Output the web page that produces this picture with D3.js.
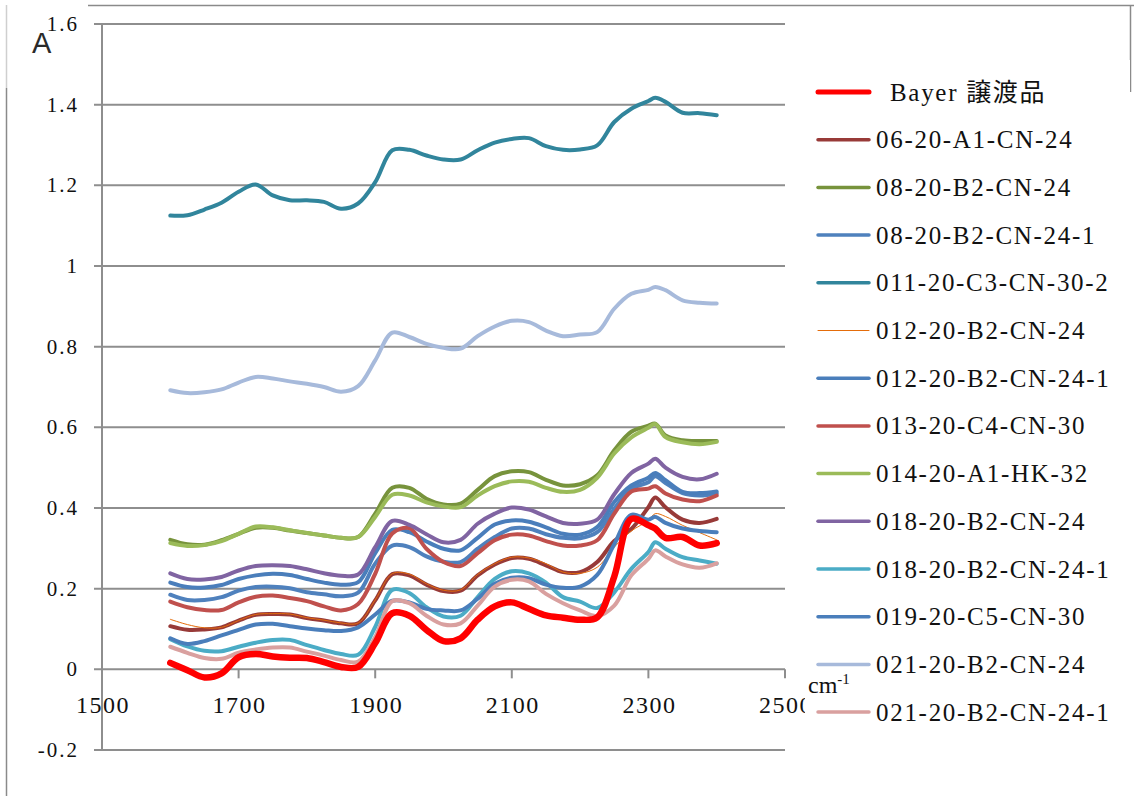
<!DOCTYPE html>
<html>
<head>
<meta charset="utf-8">
<script src="https://cdn.jsdelivr.net/npm/d3@7"></script>
<style>
    html, body { margin: 0; padding: 0; background: #fff; }
    svg { display: block; }
    .tick-label { font-family: "Liberation Serif", "Times New Roman", serif; fill: #111; }
    .legend-label { font-family: "Liberation Serif", "Noto Sans CJK JP", serif; font-size: 25px; fill: #111; letter-spacing: 1.7px; }
</style>
</head>
<body>
<div id="chart"></div>
<script>
(function () {
    "use strict";

    const width = 1134;
    const height = 796;

    // wavenumber grid (cm-1) shared by every spectrum
    const wavenumbers = [1600, 1625, 1650, 1675, 1700, 1725, 1750, 1775, 1800, 1825, 1850, 1875,
        1900, 1925, 1950, 1975, 2000, 2025, 2050, 2075, 2100, 2125, 2150, 2175, 2200, 2225,
        2250, 2275, 2300, 2310, 2325, 2350, 2375, 2400];

    const bayer = [0.016, -0.002, -0.020, -0.010, 0.030, 0.038, 0.032, 0.029, 0.028, 0.018, 0.006, 0.006,
        0.065, 0.139, 0.133, 0.098, 0.070, 0.077, 0.123, 0.156, 0.166, 0.150, 0.134, 0.128, 0.123, 0.129,
        0.230, 0.373, 0.357, 0.349, 0.326, 0.328, 0.307, 0.313];
    const a06A1 = [0.107, 0.098, 0.099, 0.104, 0.121, 0.135, 0.137, 0.136, 0.127, 0.121, 0.114, 0.114,
        0.171, 0.236, 0.233, 0.210, 0.194, 0.195, 0.233, 0.260, 0.276, 0.274, 0.258, 0.241, 0.241, 0.266,
        0.318, 0.348, 0.402, 0.426, 0.402, 0.371, 0.363, 0.373];
    const b08B2 = [0.321, 0.310, 0.309, 0.320, 0.336, 0.351, 0.351, 0.344, 0.338, 0.332, 0.326, 0.328,
        0.386, 0.450, 0.450, 0.423, 0.409, 0.411, 0.445, 0.479, 0.491, 0.489, 0.470, 0.456, 0.459, 0.481,
        0.543, 0.589, 0.604, 0.609, 0.580, 0.568, 0.566, 0.566];
    const b08B2r1 = [0.185, 0.172, 0.172, 0.179, 0.195, 0.204, 0.205, 0.201, 0.191, 0.186, 0.181, 0.190,
        0.262, 0.307, 0.303, 0.280, 0.267, 0.266, 0.299, 0.328, 0.349, 0.349, 0.335, 0.326, 0.325, 0.340,
        0.398, 0.448, 0.464, 0.479, 0.462, 0.437, 0.431, 0.436];
    const c011C3 = [1.125, 1.126, 1.140, 1.157, 1.184, 1.202, 1.175, 1.163, 1.163, 1.159, 1.142, 1.155,
        1.208, 1.287, 1.288, 1.274, 1.264, 1.264, 1.287, 1.306, 1.315, 1.317, 1.297, 1.288, 1.289, 1.299,
        1.357, 1.390, 1.409, 1.417, 1.407, 1.380, 1.379, 1.374];
    const d012B2 = [0.124, 0.111, 0.103, 0.104, 0.121, 0.136, 0.138, 0.137, 0.128, 0.122, 0.115, 0.115,
        0.172, 0.237, 0.236, 0.212, 0.196, 0.197, 0.235, 0.262, 0.278, 0.276, 0.262, 0.241, 0.238, 0.253,
        0.303, 0.343, 0.369, 0.386, 0.379, 0.357, 0.339, 0.321];
    const d012B2r1 = [0.215, 0.204, 0.203, 0.209, 0.224, 0.233, 0.237, 0.234, 0.224, 0.215, 0.210, 0.216,
        0.288, 0.346, 0.340, 0.317, 0.299, 0.295, 0.326, 0.359, 0.369, 0.366, 0.352, 0.336, 0.334, 0.353,
        0.415, 0.456, 0.475, 0.487, 0.469, 0.440, 0.437, 0.441];
    const e013C4 = [0.168, 0.154, 0.147, 0.147, 0.166, 0.180, 0.183, 0.177, 0.169, 0.156, 0.146, 0.162,
        0.237, 0.337, 0.350, 0.299, 0.266, 0.256, 0.288, 0.320, 0.334, 0.332, 0.318, 0.307, 0.307, 0.320,
        0.386, 0.441, 0.448, 0.454, 0.436, 0.421, 0.417, 0.431];
    const f014A1 = [0.313, 0.306, 0.308, 0.318, 0.336, 0.354, 0.352, 0.345, 0.338, 0.332, 0.326, 0.328,
        0.378, 0.433, 0.431, 0.414, 0.404, 0.402, 0.431, 0.454, 0.466, 0.465, 0.450, 0.440, 0.445, 0.475,
        0.535, 0.575, 0.599, 0.608, 0.576, 0.563, 0.558, 0.564];
    const g018B2 = [0.238, 0.224, 0.223, 0.229, 0.245, 0.256, 0.258, 0.256, 0.248, 0.238, 0.232, 0.235,
        0.303, 0.368, 0.358, 0.335, 0.315, 0.321, 0.361, 0.386, 0.401, 0.396, 0.379, 0.363, 0.361, 0.371,
        0.434, 0.487, 0.510, 0.522, 0.500, 0.477, 0.471, 0.485];
    const g018B2r1 = [0.075, 0.057, 0.046, 0.045, 0.056, 0.066, 0.073, 0.073, 0.060, 0.048, 0.038, 0.036,
        0.105, 0.197, 0.189, 0.154, 0.131, 0.133, 0.179, 0.224, 0.243, 0.238, 0.215, 0.179, 0.168, 0.152,
        0.191, 0.249, 0.291, 0.315, 0.299, 0.278, 0.270, 0.262];
    const h019C5 = [0.077, 0.063, 0.070, 0.084, 0.098, 0.111, 0.113, 0.107, 0.101, 0.097, 0.095, 0.104,
        0.136, 0.170, 0.166, 0.150, 0.146, 0.146, 0.175, 0.212, 0.227, 0.226, 0.210, 0.202, 0.205, 0.234,
        0.310, 0.383, 0.371, 0.378, 0.363, 0.349, 0.343, 0.340];
    const i021B2 = [0.692, 0.685, 0.687, 0.694, 0.711, 0.725, 0.721, 0.714, 0.708, 0.700, 0.688, 0.702,
        0.766, 0.835, 0.824, 0.807, 0.797, 0.795, 0.826, 0.850, 0.864, 0.861, 0.840, 0.826, 0.830, 0.836,
        0.894, 0.931, 0.941, 0.948, 0.940, 0.915, 0.909, 0.907];
    const i021B2r1 = [0.056, 0.041, 0.028, 0.026, 0.041, 0.049, 0.054, 0.054, 0.044, 0.034, 0.023, 0.019,
        0.080, 0.169, 0.164, 0.133, 0.111, 0.114, 0.158, 0.205, 0.222, 0.218, 0.187, 0.164, 0.146, 0.132,
        0.158, 0.233, 0.274, 0.295, 0.280, 0.260, 0.252, 0.263];

    const seriesNames = ["Bayer 譲渡品", "06-20-A1-CN-24", "08-20-B2-CN-24", "08-20-B2-CN-24-1",
        "011-20-C3-CN-30-2", "012-20-B2-CN-24", "012-20-B2-CN-24-1", "013-20-C4-CN-30",
        "014-20-A1-HK-32", "018-20-B2-CN-24", "018-20-B2-CN-24-1", "019-20-C5-CN-30",
        "021-20-B2-CN-24", "021-20-B2-CN-24-1"];
    const seriesValues = [bayer, a06A1, b08B2, b08B2r1, c011C3, d012B2, d012B2r1, e013C4,
        f014A1, g018B2, g018B2r1, h019C5, i021B2, i021B2r1];

    const xTicks = [1500, 1700, 1900, 2100, 2300, 2500];
    const yTicks = [-0.2, 0, 0.2, 0.4, 0.6, 0.8, 1, 1.2, 1.4, 1.6];
    const yTickLabels = ["-0.2", "0", "0.2", "0.4", "0.6", "0.8", "1", "1.2", "1.4", "1.6"];

    // styling per series, same order as the names
    const styles = [
        { color: "#ff0000", width: 6.5, legendWidth: 5 },
        { color: "#983a38", width: 4, legendWidth: 3.5 },
        { color: "#77933c", width: 4, legendWidth: 3.5 },
        { color: "#4f81bd", width: 4, legendWidth: 3.5 },
        { color: "#31859c", width: 4, legendWidth: 3.5 },
        { color: "#e46c0a", width: 1, legendWidth: 1 },
        { color: "#4a7ebb", width: 4, legendWidth: 3.5 },
        { color: "#c0504d", width: 4, legendWidth: 3.5 },
        { color: "#9bbb59", width: 4, legendWidth: 3.5 },
        { color: "#8064a2", width: 4, legendWidth: 3.5 },
        { color: "#4bacc6", width: 4, legendWidth: 3.5 },
        { color: "#4a7ebb", width: 4, legendWidth: 3.5 },
        { color: "#a7badb", width: 4, legendWidth: 3.5 },
        { color: "#d9a09f", width: 4, legendWidth: 3.5 }
    ];

    const series = seriesNames.map((name, i) => ({
        name: name,
        style: styles[i],
        points: wavenumbers.map((w, j) => ({ x: w, y: seriesValues[i][j] }))
    }));

    const x = d3.scaleLinear().domain([1500, 2500]).range([102, 785]);
    const y = d3.scaleLinear().domain([-0.2, 1.6]).range([750, 24]);
    const gridColor = "#8e8e8e";

    const svg = d3.select("#chart")
        .append("svg")
        .attr("width", width)
        .attr("height", height);

    // outer frame of the pasted chart
    const frame = svg.append("g").attr("fill", "none").attr("stroke-width", 1.5);
    frame.append("line").attr("x1", 6.5).attr("x2", 6.5).attr("y1", 88).attr("y2", height).attr("stroke", "#8a8a8a");
    frame.append("line").attr("x1", 6.5).attr("x2", 6.5).attr("y1", 5).attr("y2", 88).attr("stroke", "#cfcfcf");
    frame.append("line").attr("x1", 88).attr("x2", width).attr("y1", 5.5).attr("y2", 5.5).attr("stroke", "#8a8a8a");
    frame.append("line").attr("x1", 1130.5).attr("x2", 1130.5).attr("y1", 5).attr("y2", 92).attr("stroke", "#8a8a8a");

    // horizontal gridlines with their little tick stubs
    svg.append("g")
        .selectAll("line")
        .data(yTicks)
        .join("line")
        .attr("x1", x(1500) - 8)
        .attr("x2", x(2500))
        .attr("y1", (d) => y(d))
        .attr("y2", (d) => y(d))
        .attr("stroke", gridColor)
        .attr("stroke-width", 2);

    svg.append("line")
        .attr("x1", x(1500)).attr("x2", x(1500))
        .attr("y1", y(1.6)).attr("y2", y(-0.2))
        .attr("stroke", gridColor)
        .attr("stroke-width", 2);

    svg.append("g")
        .selectAll("line")
        .data(xTicks)
        .join("line")
        .attr("x1", (d) => x(d))
        .attr("x2", (d) => x(d))
        .attr("y1", y(0))
        .attr("y2", y(0) + 9)
        .attr("stroke", gridColor)
        .attr("stroke-width", 2);

    svg.append("g")
        .selectAll("text")
        .data(yTicks)
        .join("text")
        .attr("class", "tick-label")
        .attr("x", 79)
        .attr("y", (d) => y(d))
        .attr("dy", "0.33em")
        .attr("text-anchor", "end")
        .style("font-size", "21px")
        .style("letter-spacing", "2px")
        .text((d, i) => yTickLabels[i]);

    svg.append("g")
        .selectAll("text")
        .data(xTicks)
        .join("text")
        .attr("class", "tick-label")
        .attr("x", (d) => x(d) + 1)
        .attr("y", 713)
        .attr("text-anchor", "middle")
        .style("font-size", "24px")
        .style("letter-spacing", "1.5px")
        .text((d) => d);

    const line = d3.line()
        .x((d) => x(d.x))
        .y((d) => y(d.y))
        .curve(d3.curveCatmullRom.alpha(0.5));

    // Bayer goes last so the thick red trace sits on top
    const drawOrder = series.slice(1).concat(series.slice(0, 1));

    svg.append("g")
        .attr("fill", "none")
        .attr("stroke-linejoin", "round")
        .attr("stroke-linecap", "round")
        .selectAll("path")
        .data(drawOrder)
        .join("path")
        .attr("d", (d) => line(d.points))
        .attr("stroke", (d) => d.style.color)
        .attr("stroke-width", (d) => d.style.width);

    // legend box covers the tail of the 2500 label, as in the original
    svg.append("rect")
        .attr("x", 805)
        .attr("y", 60)
        .attr("width", 325)
        .attr("height", 680)
        .attr("fill", "#fff");

    const legend = svg.append("g")
        .selectAll("g")
        .data(series)
        .join("g")
        .attr("transform", (d, i) => `translate(0,${92 + i * 47.7})`);

    legend.append("line")
        .attr("x1", 818)
        .attr("x2", 869)
        .attr("stroke", (d) => d.style.color)
        .attr("stroke-width", (d) => d.style.legendWidth)
        .attr("stroke-linecap", "round");

    legend.append("text")
        .attr("class", "legend-label")
        .attr("x", (d, i) => i === 0 ? 890 : 876)
        .attr("y", 8.5)
        .text((d) => d.name);

    // axis titles
    svg.append("text")
        .attr("x", 32)
        .attr("y", 53)
        .style("font-family", "'Liberation Sans', Arial, sans-serif")
        .style("font-size", "29px")
        .style("fill", "#2a2a2a")
        .text("A");

    const unit = svg.append("text")
        .attr("x", 808)
        .attr("y", 693)
        .attr("class", "tick-label")
        .style("font-size", "24px");
    unit.append("tspan").text("cm");
    unit.append("tspan")
        .attr("dy", -9)
        .style("font-size", "15px")
        .text("-1");
}());
</script>
</body>
</html>
